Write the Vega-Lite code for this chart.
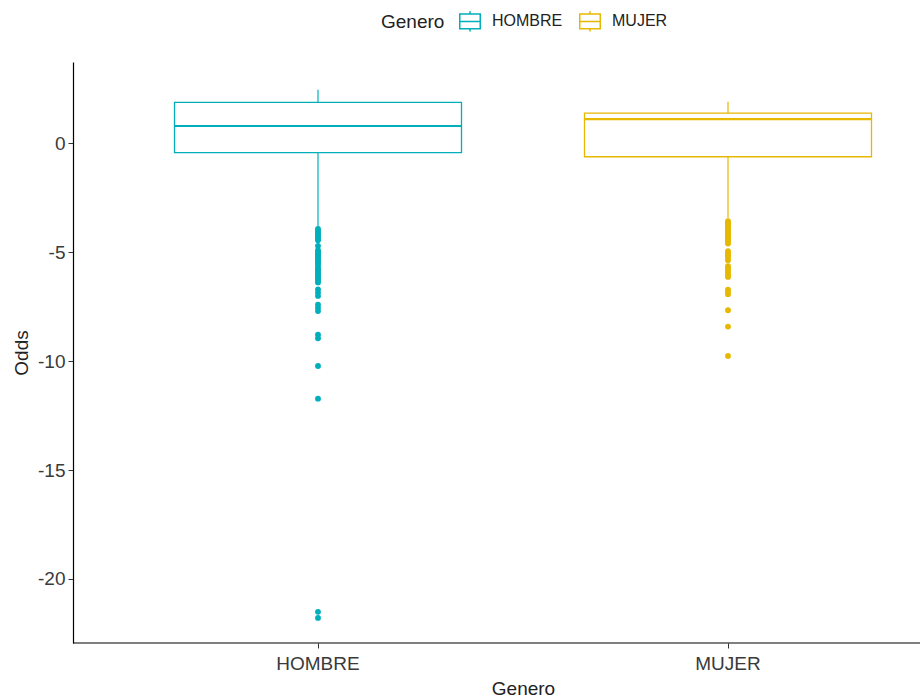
{
  "$schema": "https://vega.github.io/schema/vega-lite/v6.json",
  "width": 847,
  "height": 581,
  "autosize": {"type": "none"},
  "padding": {"left": 73, "top": 62, "right": 0, "bottom": 57},
  "background": "white",
  "config": {
    "view": {"stroke": null},
    "font": "Liberation Sans",
    "axis": {"grid": false}
  },
  "datasets": {
    "stats": [
      {"Genero": "HOMBRE", "lower": -3.82, "q1": -0.42, "median": 0.8, "q3": 1.89, "upper": 2.46},
      {"Genero": "MUJER", "lower": -3.42, "q1": -0.61, "median": 1.12, "q3": 1.39, "upper": 1.92}
    ],
    "outliers": [
      {"Genero": "HOMBRE", "Odds": -3.92}, {"Genero": "HOMBRE", "Odds": -4.0}, {"Genero": "HOMBRE", "Odds": -4.08},
      {"Genero": "HOMBRE", "Odds": -4.15}, {"Genero": "HOMBRE", "Odds": -4.22}, {"Genero": "HOMBRE", "Odds": -4.3},
      {"Genero": "HOMBRE", "Odds": -4.38}, {"Genero": "HOMBRE", "Odds": -4.45}, {"Genero": "HOMBRE", "Odds": -4.7},
      {"Genero": "HOMBRE", "Odds": -4.9}, {"Genero": "HOMBRE", "Odds": -4.98}, {"Genero": "HOMBRE", "Odds": -5.05},
      {"Genero": "HOMBRE", "Odds": -5.12}, {"Genero": "HOMBRE", "Odds": -5.2}, {"Genero": "HOMBRE", "Odds": -5.28},
      {"Genero": "HOMBRE", "Odds": -5.35}, {"Genero": "HOMBRE", "Odds": -5.42}, {"Genero": "HOMBRE", "Odds": -5.5},
      {"Genero": "HOMBRE", "Odds": -5.58}, {"Genero": "HOMBRE", "Odds": -5.7}, {"Genero": "HOMBRE", "Odds": -5.78},
      {"Genero": "HOMBRE", "Odds": -5.85}, {"Genero": "HOMBRE", "Odds": -5.92}, {"Genero": "HOMBRE", "Odds": -6.0},
      {"Genero": "HOMBRE", "Odds": -6.08}, {"Genero": "HOMBRE", "Odds": -6.15}, {"Genero": "HOMBRE", "Odds": -6.22},
      {"Genero": "HOMBRE", "Odds": -6.3}, {"Genero": "HOMBRE", "Odds": -6.38}, {"Genero": "HOMBRE", "Odds": -6.7},
      {"Genero": "HOMBRE", "Odds": -6.85}, {"Genero": "HOMBRE", "Odds": -7.0}, {"Genero": "HOMBRE", "Odds": -7.4},
      {"Genero": "HOMBRE", "Odds": -7.55}, {"Genero": "HOMBRE", "Odds": -7.7}, {"Genero": "HOMBRE", "Odds": -8.78},
      {"Genero": "HOMBRE", "Odds": -8.95}, {"Genero": "HOMBRE", "Odds": -10.22}, {"Genero": "HOMBRE", "Odds": -11.72},
      {"Genero": "HOMBRE", "Odds": -21.51}, {"Genero": "HOMBRE", "Odds": -21.79},
      {"Genero": "MUJER", "Odds": -3.57}, {"Genero": "MUJER", "Odds": -3.65}, {"Genero": "MUJER", "Odds": -3.72},
      {"Genero": "MUJER", "Odds": -3.8}, {"Genero": "MUJER", "Odds": -3.87}, {"Genero": "MUJER", "Odds": -3.95},
      {"Genero": "MUJER", "Odds": -4.02}, {"Genero": "MUJER", "Odds": -4.1}, {"Genero": "MUJER", "Odds": -4.17},
      {"Genero": "MUJER", "Odds": -4.25}, {"Genero": "MUJER", "Odds": -4.32}, {"Genero": "MUJER", "Odds": -4.4},
      {"Genero": "MUJER", "Odds": -4.47}, {"Genero": "MUJER", "Odds": -4.55}, {"Genero": "MUJER", "Odds": -4.6},
      {"Genero": "MUJER", "Odds": -4.95}, {"Genero": "MUJER", "Odds": -5.05}, {"Genero": "MUJER", "Odds": -5.15},
      {"Genero": "MUJER", "Odds": -5.25}, {"Genero": "MUJER", "Odds": -5.36}, {"Genero": "MUJER", "Odds": -5.64},
      {"Genero": "MUJER", "Odds": -5.74}, {"Genero": "MUJER", "Odds": -5.84}, {"Genero": "MUJER", "Odds": -5.94},
      {"Genero": "MUJER", "Odds": -6.04}, {"Genero": "MUJER", "Odds": -6.13}, {"Genero": "MUJER", "Odds": -6.71},
      {"Genero": "MUJER", "Odds": -6.8}, {"Genero": "MUJER", "Odds": -6.92}, {"Genero": "MUJER", "Odds": -7.66},
      {"Genero": "MUJER", "Odds": -8.41}, {"Genero": "MUJER", "Odds": -9.76}
    ]
  },
  "layer": [
    {
      "data": {"name": "stats"},
      "mark": {"type": "bar", "filled": false, "strokeWidth": 1.3},
      "encoding": {
        "x": {"field": "Genero", "type": "nominal", "title": "Genero",
          "scale": {"type": "band", "domain": ["HOMBRE", "MUJER"], "range": [101.5, 798.5], "paddingInner": 0.3, "paddingOuter": 0},
          "axis": {"domain": false, "labelAngle": 0, "tickSize": 5, "tickColor": "#333333", "labelFontSize": 19, "labelColor": "#3a3a3a", "labelPadding": 6, "titleFontSize": 19, "titleFontWeight": "normal", "titleColor": "#222222", "titlePadding": 6}},
        "y": {"field": "q1", "type": "quantitative", "title": "Odds",
          "scale": {"domain": [-22.94, 3.74], "nice": false, "zero": false},
          "axis": {"values": [-20, -15, -10, -5, 0], "labelExpr": "'' + datum.value", "domainColor": "#000000", "domainWidth": 1.2, "tickColor": "#333333", "tickSize": 5, "labelFontSize": 19, "labelColor": "#3a3a3a", "labelPadding": 3, "titleFontSize": 19, "titleFontWeight": "normal", "titleColor": "#222222", "titlePadding": 6}},
        "y2": {"field": "q3"},
        "stroke": {"field": "Genero", "type": "nominal", "scale": {"domain": ["HOMBRE", "MUJER"], "range": ["#00AFBB", "#E7B800"]},
          "legend": {"orient": "none", "legendX": 308, "legendY": -52, "direction": "horizontal", "titleOrient": "left", "title": "Genero",
            "titleFontSize": 19, "titleFontWeight": "normal", "titleColor": "#222222", "titlePadding": 14,
            "labelFontSize": 16, "labelColor": "#222222", "labelOffset": 11, "columnPadding": 13,
            "symbolType": "M-1,-0.72H1V0.72H-1Z M-1,0H1 M0,-0.72V-1 M0,0.72V1", "symbolSize": 420, "symbolStrokeWidth": 1.5,
            "symbolFillColor": "white"}}
      }
    },
    {
      "data": {"name": "stats"},
      "mark": {"type": "rule", "strokeWidth": 1.2},
      "encoding": {
        "x": {"field": "Genero", "type": "nominal", "title": "Genero"},
        "y": {"field": "lower", "type": "quantitative", "title": "Odds"},
        "y2": {"field": "q1"},
        "stroke": {"field": "Genero", "type": "nominal"}
      }
    },
    {
      "data": {"name": "stats"},
      "mark": {"type": "rule", "strokeWidth": 1.2},
      "encoding": {
        "x": {"field": "Genero", "type": "nominal", "title": "Genero"},
        "y": {"field": "q3", "type": "quantitative", "title": "Odds"},
        "y2": {"field": "upper"},
        "stroke": {"field": "Genero", "type": "nominal"}
      }
    },
    {
      "data": {"name": "stats"},
      "mark": {"type": "bar", "filled": false, "strokeWidth": 2.2},
      "encoding": {
        "x": {"field": "Genero", "type": "nominal", "title": "Genero"},
        "y": {"field": "median", "type": "quantitative", "title": "Odds"},
        "y2": {"field": "median"},
        "stroke": {"field": "Genero", "type": "nominal"}
      }
    },
    {
      "data": {"name": "outliers"},
      "transform": [{"filter": "datum.Genero == 'HOMBRE'"}],
      "mark": {"type": "point", "filled": true, "size": 34, "opacity": 1, "strokeWidth": 0, "color": "#00AFBB"},
      "encoding": {
        "x": {"field": "Genero", "type": "nominal", "title": "Genero"},
        "y": {"field": "Odds", "type": "quantitative", "title": "Odds"}
      }
    },
    {
      "data": {"name": "outliers"},
      "transform": [{"filter": "datum.Genero == 'MUJER'"}],
      "mark": {"type": "point", "filled": true, "size": 34, "opacity": 1, "strokeWidth": 0, "color": "#E7B800"},
      "encoding": {
        "x": {"field": "Genero", "type": "nominal", "title": "Genero"},
        "y": {"field": "Odds", "type": "quantitative", "title": "Odds"}
      }
    },
    {
      "data": {"values": [{}]},
      "mark": {"type": "rule", "color": "#000000", "strokeWidth": 1.2},
      "encoding": {"y": {"datum": -22.94}}
    }
  ]
}
